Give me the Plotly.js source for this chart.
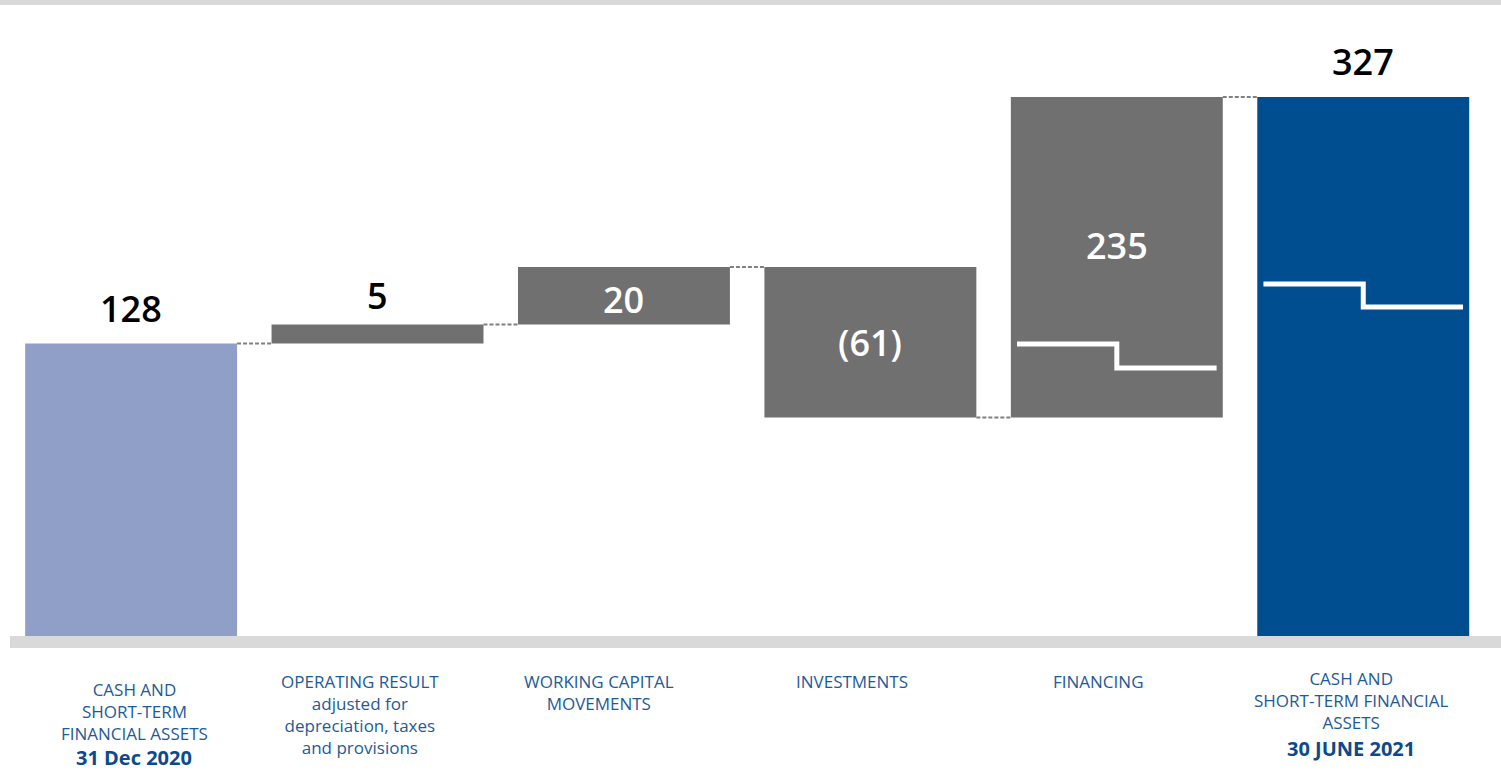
<!DOCTYPE html>
<html>
<head>
<meta charset="utf-8">
<script src="https://cdn.plot.ly/plotly-3.0.1.min.js"></script>
<style>
  html, body { margin: 0; padding: 0; background: #ffffff; }
  #chart { width: 1501px; height: 770px; }
</style>
</head>
<body>
<div id="chart"></div>
<script>
// ---- data -------------------------------------------------------------
// category captions (regular part) and the bold date line where present
const categoryText = [
  'CASH AND<br>SHORT-TERM<br>FINANCIAL ASSETS',
  'OPERATING RESULT<br>adjusted for<br>depreciation, taxes<br>and provisions',
  'WORKING CAPITAL<br>MOVEMENTS',
  'INVESTMENTS',
  'FINANCING',
  'CASH AND<br>SHORT-TERM FINANCIAL<br>ASSETS'
];
const categoryDate = ['31 Dec 2020', '', '', '', '', '30 JUNE 2021'];

// values printed on the chart (EUR m)
const values = [128, 5, 20, -61, 235, 327];
const valueLabels = ['128', '5', '20', '(61)', '235', '327'];

// bar heights as drawn in the (not-to-scale) source picture
const drawnStart = 178;
const drawnSteps = [11.5, 35, -91.5, 195];

// decorative white step marks inside the last two bars (drawn units)
const stepMarkCats = [4, 5];
const stepMarkHigh = [177.7, 214.2];
const stepMarkLow = [163.1, 200.2];

// ---- build bars ---------------------------------------------------------
const n = values.length;
const xs = [], bases = [], heights = [];
let running = drawnStart;
xs.push(0); bases.push(0); heights.push(drawnStart);
drawnSteps.forEach((s, k) => {
  xs.push(k + 1); bases.push(running); heights.push(s); running += s;
});
xs.push(n - 1); bases.push(0); heights.push(running);

const GRAY = '#707070';
const colors = xs.map(i => i === 0 ? '#8F9FC8' : (i === n - 1 ? '#004D8F' : GRAY));
const BAR_W = 0.86;

const traces = [{
  type: 'bar',
  x: xs, y: heights, base: bases,
  width: BAR_W,
  marker: { color: colors, line: { width: 0 } },
  hoverinfo: 'skip',
  showlegend: false
}];

stepMarkCats.forEach((c, k) => {
  traces.push({
    type: 'scatter', mode: 'lines',
    x: [c - 0.405, c, c + 0.405],
    y: [stepMarkHigh[k], stepMarkLow[k], stepMarkLow[k]],
    line: { shape: 'hv', color: '#ffffff', width: 5 },
    hoverinfo: 'skip', showlegend: false
  });
});

// ---- shapes -------------------------------------------------------------
const shapes = [];
// top grey band
shapes.push({ type: 'rect', xref: 'paper', yref: 'paper', x0: 0, x1: 1,
  ysizemode: 'pixel', yanchor: 1, y0: 0, y1: 5,
  fillcolor: '#D9D9D9', line: { width: 0 }, layer: 'below' });
// baseline band (just below the zero line)
shapes.push({ type: 'rect', xref: 'paper', yref: 'paper', x0: 10 / 1501, x1: 1,
  ysizemode: 'pixel', yanchor: 0, y0: 0, y1: -12,
  fillcolor: '#D9D9D9', line: { width: 0 }, layer: 'below' });
// dashed connectors
for (let i = 0; i < n - 1; i++) {
  const level = bases[i] + heights[i];
  shapes.push({ type: 'line', xref: 'x', yref: 'y',
    x0: xs[i] + BAR_W / 2, x1: xs[i + 1] - BAR_W / 2, y0: level, y1: level,
    line: { color: '#808080', width: 2, dash: '4px,2px' }, layer: 'below' });
}

// ---- annotations --------------------------------------------------------
const FONT = '"Open Sans", "Noto Sans", sans-serif';
const annotations = [];
xs.forEach((x, i) => {
  const top = Math.max(bases[i], bases[i] + heights[i]);
  const isTotal = (i === 0 || i === n - 1);
  const outside = isTotal || Math.abs(heights[i]) < 30;
  if (outside) {
    annotations.push({ x: x, y: top, xref: 'x', yref: 'y', yanchor: 'bottom',
      yshift: i === 1 ? 3 : 9, showarrow: false, text: valueLabels[i],
      font: { family: FONT, size: 36, color: '#000000', weight: 600 } });
  } else {
    const mid = bases[i] + heights[i] / 2;
    annotations.push({ x: x, y: mid, xref: 'x', yref: 'y', yanchor: 'middle',
      yshift: i === 4 ? 12 : (i === 2 ? -4 : 0), showarrow: false, text: valueLabels[i],
      font: { family: FONT, size: 36, color: '#ffffff', weight: 600 } });
  }
  const xshift = i === 0 ? 3 : (i === 2 ? -25 : (i === n - 1 ? -12 : -18));
  annotations.push({ x: x, y: 0, xref: 'x', yref: 'paper', yanchor: 'top', xanchor: 'center',
    xshift: xshift, yshift: i === 0 ? -41 : (i === n - 1 ? -30 : -33),
    showarrow: false, align: 'center', text: categoryText[i], borderpad: 0,
    font: { family: FONT, size: 17, color: '#1E5A98' } });
  if (categoryDate[i]) {
    annotations.push({ x: x, y: 0, xref: 'x', yref: 'paper', yanchor: 'top', xanchor: 'center',
      xshift: xshift, yshift: i === 0 ? -107 : -98, borderpad: 0,
      showarrow: false, align: 'center', text: '<b>' + categoryDate[i] + '</b>',
      font: { family: FONT, size: 20, color: '#0B4A8C' } });
  }
});

const layout = {
  width: 1501, height: 770,
  margin: { l: 0, r: 0, t: 5, b: 134, pad: 0 },
  paper_bgcolor: '#ffffff', plot_bgcolor: '#ffffff',
  barmode: 'overlay',
  xaxis: { range: [-0.532, 5.559], visible: false, fixedrange: true },
  yaxis: { range: [0, 384], visible: false, fixedrange: true },
  shapes: shapes,
  annotations: annotations,
  font: { family: FONT },
  showlegend: false
};

Plotly.newPlot('chart', traces, layout, { displayModeBar: false, staticPlot: true });
</script>
</body>
</html>
